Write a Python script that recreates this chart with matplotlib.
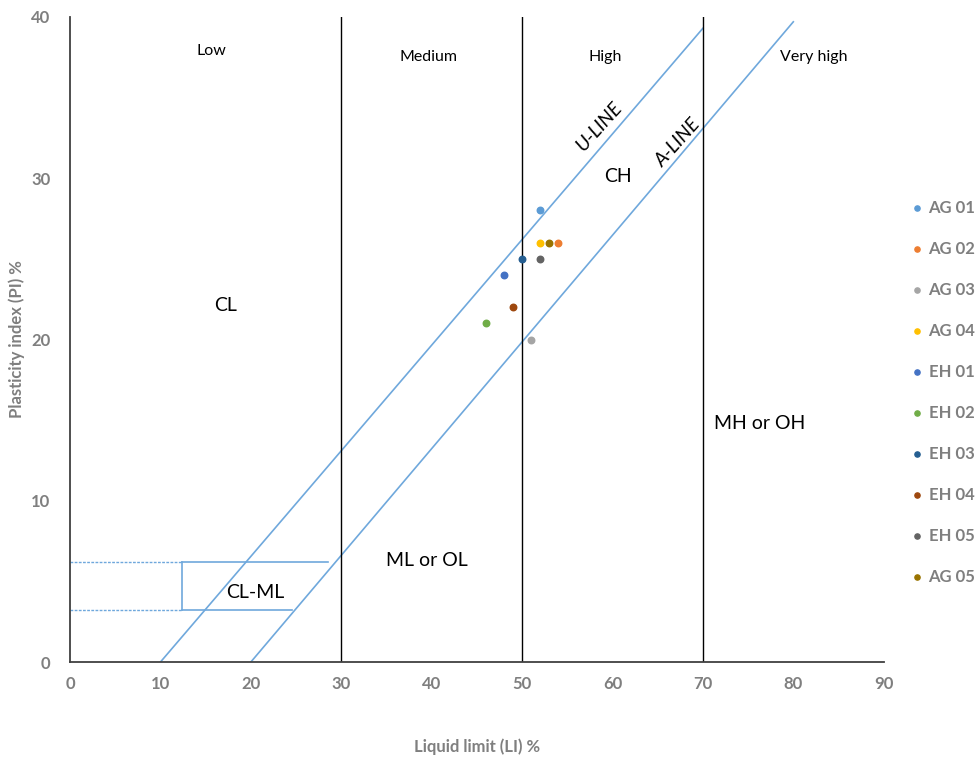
import numpy as np
import matplotlib
matplotlib.use("Agg")
from matplotlib import pyplot as plt

plt.rcParams['font.family'] = ['Lato', 'DejaVu Sans']

# samples
names = ['AG 01', 'AG 02', 'AG 03', 'AG 04', 'EH 01', 'EH 02', 'EH 03', 'EH 04', 'EH 05', 'AG 05']
ll = [52, 54, 51, 52, 48, 46, 50, 49, 52, 53]
pi = [28, 26, 20, 26, 24, 21, 25, 22, 25, 26]
colors = ['#5B9BD5', '#ED7D31', '#A5A5A5', '#FFC000', '#4472C4',
          '#70AD47', '#255E91', '#9E480E', '#636363', '#997300']

# chart lines
u_line_x = [10, 70]
u_line_y = [0, 39.3]
a_line_x = [20, 80]
a_line_y = [0, 39.7]
zone_x = [30, 50, 70]
clml_top = 6.2
clml_bot = 3.2
clml_left = 12.35

fig = plt.figure(figsize=(9.78, 7.58), dpi=100)
ax = fig.add_axes([0.0716, 0.1266, 0.832, 0.851])

line_c = '#6FA8DC'
ax.plot(u_line_x, u_line_y, color=line_c, lw=1.2)
ax.plot(a_line_x, a_line_y, color=line_c, lw=1.2)
for x in zone_x:
    ax.axvline(x, color='black', lw=1)

# CL-ML box
ax.plot([0, clml_left], [clml_top, clml_top], color=line_c, lw=1, ls=(0, (2, 1)))
ax.plot([0, clml_left], [clml_bot, clml_bot], color=line_c, lw=1, ls=(0, (2, 1)))
ax.plot([clml_left, 28.5], [clml_top, clml_top], color=line_c, lw=1.2)
ax.plot([clml_left, 24.5], [clml_bot, clml_bot], color=line_c, lw=1.2)
ax.plot([clml_left, clml_left], [clml_bot, clml_top], color=line_c, lw=1.2)

for n, x, y, c in zip(names, ll, pi, colors):
    ax.scatter(x, y, s=22, color=c, label=n, zorder=3)

# zone text
ax.text(15.6, 37.9, 'Low', ha='center', va='center', fontsize=11.5)
ax.text(39.7, 37.5, 'Medium', ha='center', va='center', fontsize=11.5)
ax.text(59.2, 37.5, 'High', ha='center', va='center', fontsize=11.5)
ax.text(82.3, 37.5, 'Very high', ha='center', va='center', fontsize=11.5)
ax.text(17.2, 22.1, 'CL', ha='center', va='center', fontsize=14)
ax.text(60.6, 30.1, 'CH', ha='center', va='center', fontsize=14)
ax.text(76.3, 14.8, 'MH or OH', ha='center', va='center', fontsize=14)
ax.text(39.5, 6.3, 'ML or OL', ha='center', va='center', fontsize=14)
ax.text(20.5, 4.3, 'CL-ML', ha='center', va='center', fontsize=14)
ax.text(58.6, 33.2, 'U-LINE', ha='center', va='center', fontsize=14,
        rotation=48, style='italic')
ax.text(67.2, 32.2, 'A-LINE', ha='center', va='center', fontsize=14,
        rotation=48, style='italic')

ax.set_xlim(0, 90)
ax.set_ylim(0, 40)
ax.set_xticks(np.arange(0, 91, 10))
ax.set_yticks(np.arange(0, 41, 10))
ax.tick_params(length=0, labelsize=12, labelcolor='#7F7F7F', pad=10)
ax.tick_params(axis='y', pad=14)
for lab in ax.get_xticklabels() + ax.get_yticklabels():
    lab.set_fontweight('bold')
for s in ['top', 'right']:
    ax.spines[s].set_visible(False)
for s in ['left', 'bottom']:
    ax.spines[s].set_color('#404040')
    ax.spines[s].set_linewidth(1.3)

ax.set_xlabel('Liquid limit (LI) %', fontsize=12, fontweight='bold', color='#7F7F7F')
ax.set_ylabel('Plasticity index (PI) %', fontsize=12, fontweight='bold', color='#7F7F7F')
ax.xaxis.set_label_coords(0.5, -0.118)
ax.yaxis.set_label_coords(-0.055, 0.5)

leg = ax.legend(loc='upper left', bbox_to_anchor=(1.01, 0.74), frameon=False,
                handletextpad=0.1, labelspacing=1.5, fontsize=12,
                handlelength=1.2, markerscale=0.8)
for t in leg.get_texts():
    t.set_color('#7F7F7F')
    t.set_fontweight('bold')

fig.savefig('out.png', dpi=100)
